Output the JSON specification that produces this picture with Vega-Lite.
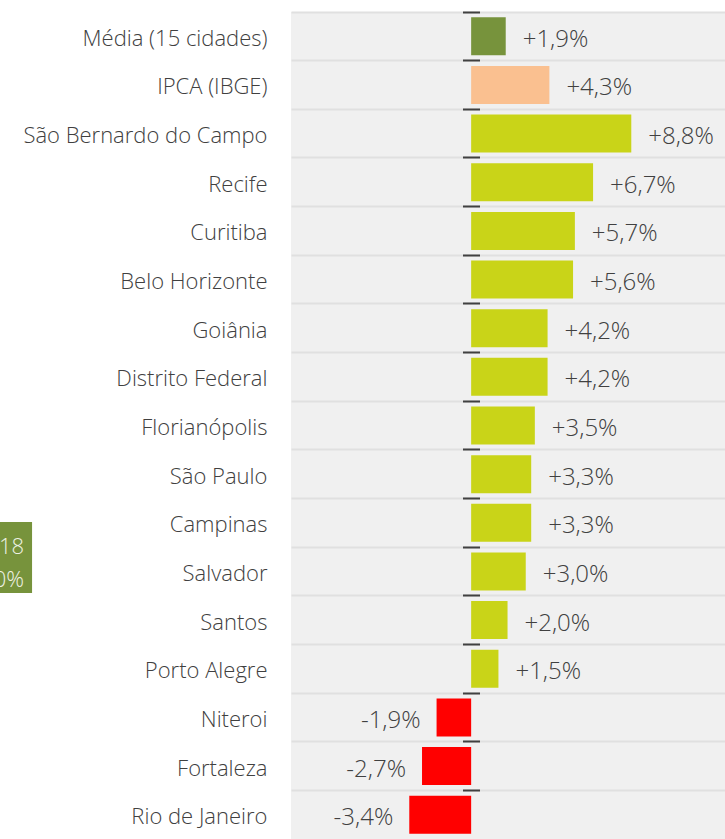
{
  "$schema": "https://vega.github.io/schema/vega-lite/v6.json",
  "width": 434,
  "height": 827,
  "autosize": {"type": "none"},
  "padding": {"left": 291, "top": 12, "right": 0, "bottom": 0},
  "background": "white",
  "config": {
    "view": {"fill": "#f0f0f0", "stroke": null},
    "font": "Open Sans",
    "locale": {"number": {"decimal": ",", "thousands": ".", "grouping": [3], "currency": ["R$", ""], "minus": "-"}}
  },
  "datasets": {
    "cidades": [
      {"cidade": "Média (15 cidades)", "v": 0.019, "grupo": "media"},
      {"cidade": "IPCA (IBGE)", "v": 0.043, "grupo": "ipca"},
      {"cidade": "São Bernardo do Campo", "v": 0.088, "grupo": "pos"},
      {"cidade": "Recife", "v": 0.067, "grupo": "pos"},
      {"cidade": "Curitiba", "v": 0.057, "grupo": "pos"},
      {"cidade": "Belo Horizonte", "v": 0.056, "grupo": "pos"},
      {"cidade": "Goiânia", "v": 0.042, "grupo": "pos"},
      {"cidade": "Distrito Federal", "v": 0.042, "grupo": "pos"},
      {"cidade": "Florianópolis", "v": 0.035, "grupo": "pos"},
      {"cidade": "São Paulo", "v": 0.033, "grupo": "pos"},
      {"cidade": "Campinas", "v": 0.033, "grupo": "pos"},
      {"cidade": "Salvador", "v": 0.030, "grupo": "pos"},
      {"cidade": "Santos", "v": 0.020, "grupo": "pos"},
      {"cidade": "Porto Alegre", "v": 0.015, "grupo": "pos"},
      {"cidade": "Niteroi", "v": -0.019, "grupo": "neg"},
      {"cidade": "Fortaleza", "v": -0.027, "grupo": "neg"},
      {"cidade": "Rio de Janeiro", "v": -0.034, "grupo": "neg"}
    ],
    "caixa": [
      {"texto": "/18\n0%", "de": -0.32, "ate": -0.2413, "pos": -0.2457, "cidade": "Salvador"}
    ]
  },
  "resolve": {"axis": {"y": "independent"}},
  "layer": [
    {
      "data": {"name": "cidades"},
      "mark": {"type": "text", "opacity": 0},
      "encoding": {
        "x": {"field": "v", "type": "quantitative", "scale": {"domain": [-0.099, 0.1395], "nice": false, "zero": false}, "axis": null},
        "y": {"field": "cidade", "type": "nominal", "sort": null, "scale": {"paddingInner": 0, "paddingOuter": 0},
          "axis": {"orient": "right", "bandPosition": 0, "grid": true, "gridColor": "#e0e0e0", "gridWidth": 2, "labels": false, "ticks": false, "domain": false, "title": null}},
        "text": {"value": ""}
      }
    },
    {
      "data": {"name": "cidades"},
      "mark": {"type": "bar", "height": 38},
      "encoding": {
        "x": {"field": "v", "type": "quantitative"},
        "y": {"field": "cidade", "type": "nominal", "sort": null,
          "axis": {"orient": "left", "labelPadding": 24, "ticks": false, "domain": false, "grid": false, "title": null, "labelFontSize": 22, "labelColor": "#404040", "labelFont": "Open Sans", "labelFontWeight": 300, "labelOffset": 2.5, "labelLimit": 400}},
        "color": {"field": "grupo", "type": "nominal", "scale": {"domain": ["media", "ipca", "pos", "neg"], "range": ["#77933c", "#fac090", "#c9d418", "#ff0000"]}, "legend": null}
      }
    },
    {
      "mark": {"type": "rule", "color": "#000000", "strokeWidth": 1.5},
      "encoding": {"x": {"datum": 0, "type": "quantitative"}}
    },
    {
      "data": {"name": "cidades"},
      "transform": [{"filter": "datum.v > 0"}],
      "mark": {"type": "text", "align": "left", "baseline": "middle", "dx": 17, "dy": 3.5, "fontSize": 24, "fontWeight": 300, "color": "#404040"},
      "encoding": {
        "x": {"field": "v", "type": "quantitative"},
        "y": {"field": "cidade", "type": "nominal", "sort": null,
          "axis": {"orient": "left", "offset": -188.5, "bandPosition": 0, "labels": false, "domain": false, "grid": false, "ticks": true, "tickSize": 17, "tickWidth": 2, "tickColor": "#404040", "title": null}},
        "text": {"field": "v", "type": "quantitative", "format": "+.1%"}
      }
    },
    {
      "data": {"name": "cidades"},
      "transform": [{"filter": "datum.v < 0"}],
      "mark": {"type": "text", "align": "right", "baseline": "middle", "dx": -16, "dy": 3.5, "fontSize": 24, "fontWeight": 300, "color": "#404040"},
      "encoding": {
        "x": {"field": "v", "type": "quantitative"},
        "y": {"field": "cidade", "type": "nominal", "sort": null, "axis": null},
        "text": {"field": "v", "type": "quantitative", "format": "+.1%"}
      }
    },
    {
      "data": {"name": "caixa"},
      "mark": {"type": "bar", "height": 71, "yOffset": -14, "color": "#77933c"},
      "encoding": {
        "x": {"field": "de", "type": "quantitative"},
        "x2": {"field": "ate"},
        "y": {"field": "cidade", "type": "nominal", "sort": null, "axis": null}
      }
    },
    {
      "data": {"name": "caixa"},
      "mark": {"type": "text", "align": "right", "baseline": "middle", "lineBreak": "\n", "lineHeight": 32.5, "dy": -24, "fontSize": 22, "fontWeight": 300, "color": "#eef2e4"},
      "encoding": {
        "x": {"field": "pos", "type": "quantitative"},
        "y": {"field": "cidade", "type": "nominal", "sort": null, "axis": null},
        "text": {"field": "texto"}
      }
    }
  ]
}
